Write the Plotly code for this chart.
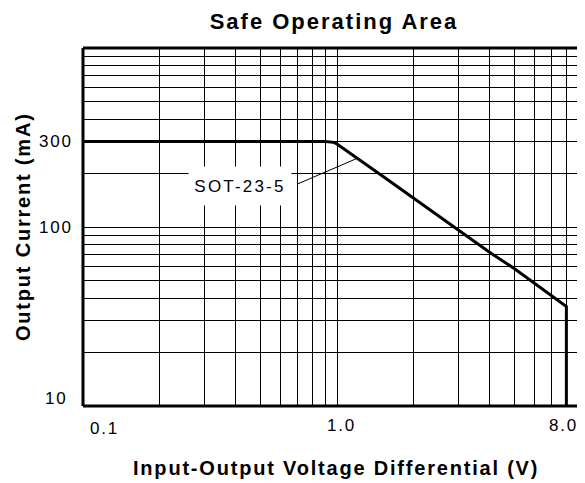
import math
import plotly.graph_objects as go

# ---- data ----
voltage = [0.1, 0.9, 0.97, 1.0, 1.5, 2.0, 3.0, 4.0, 5.0, 6.0, 7.0, 7.8, 8.0, 8.0]
current = [300, 300, 297, 291, 194, 145, 97, 72, 58.5, 48.5, 41.5, 37, 36, 10]

leader_v = [0.70, 1.21]
leader_i = [174, 243]
label_text = "SOT-23-5"
label_pos = (0.414, 169)

x_grid = [0.1, 0.2, 0.3, 0.4, 0.5, 0.6, 0.7, 0.8, 0.9, 1, 2, 3, 4, 5, 6, 7, 8, 9]
y_grid = [10, 20, 30, 40, 50, 60, 70, 80, 90, 100, 200, 300, 400, 500, 600, 700, 800, 900, 1000]

x_tick_vals = [0.1, 1.0, 8.0]
x_tick_text = ["0.1", "1.0", "8.0"]
y_tick_vals = [10, 100, 300]
y_tick_text = ["10", "100", "300"]

title_text = "Safe Operating Area"
x_title = "Input-Output Voltage Differential (V)"
y_title = "Output Current (mA)"

FONT = "Liberation Sans, Arial, sans-serif"

# the page body adds an 8px offset, so the figure is 8px smaller than the window
W, H = 577, 475


def spaced(t, px):
    return f'<span style="letter-spacing:{px}px">{t}</span>'


fig = go.Figure()
fig.add_trace(go.Scatter(x=voltage, y=current, mode="lines",
                         line=dict(color="black", width=3), showlegend=False,
                         hoverinfo="skip"))
fig.add_trace(go.Scatter(x=leader_v, y=leader_i, mode="lines",
                         line=dict(color="black", width=1), showlegend=False,
                         hoverinfo="skip"))

annotations = []
# SOT label
annotations.append(dict(x=math.log10(label_pos[0]), y=math.log10(label_pos[1]),
                        xref="x", yref="y", text=spaced(label_text, 2.2),
                        showarrow=False, bgcolor="white", width=100, height=36,
                        font=dict(family=FONT, size=17, color="black")))
# x tick labels
x_shifts = [21, 4, -3]
x_yshifts = [-22, -19, -19]
for v, t, dx, dy in zip(x_tick_vals, x_tick_text, x_shifts, x_yshifts):
    annotations.append(dict(x=math.log10(v), y=0, xref="x", yref="paper",
                            text=spaced(t, 1.8), showarrow=False,
                            xanchor="center", yanchor="middle", xshift=dx, yshift=dy,
                            font=dict(family=FONT, size=17, color="black")))
# y tick labels
y_xshifts = [-13, -8, -8]
y_yshifts = [8, 0, 0]
for v, t, dx, dy in zip(y_tick_vals, y_tick_text, y_xshifts, y_yshifts):
    annotations.append(dict(x=0, y=math.log10(v), xref="paper", yref="y",
                            text=spaced(t, 1.8), showarrow=False,
                            xanchor="right", yanchor="middle", xshift=dx, yshift=dy,
                            font=dict(family=FONT, size=17, color="black")))
# axis titles
annotations.append(dict(x=0.5, y=0, xref="paper", yref="paper",
                        text=spaced(x_title, 1.8), showarrow=False,
                        xanchor="center", yanchor="middle", yshift=-62, xshift=2,
                        font=dict(family=FONT, size=20, color="black", weight="bold")))
annotations.append(dict(x=0, y=0.5, xref="paper", yref="paper",
                        text=spaced(y_title, 1.8), showarrow=False, textangle=-90,
                        xanchor="center", yanchor="middle", xshift=-60,
                        font=dict(family=FONT, size=20, color="black", weight="bold")))

shapes = [
    dict(type="line", xref="paper", yref="paper", x0=0, x1=0, y0=0, y1=1,
         line=dict(color="black", width=3), layer="above"),
    dict(type="line", xref="paper", yref="paper", x0=0, x1=1, y0=0, y1=0,
         line=dict(color="black", width=3), layer="above"),
    dict(type="line", xref="paper", yref="paper", x0=0, x1=1, y0=1, y1=1,
         line=dict(color="black", width=3), layer="above"),
]

fig.update_layout(
    width=W, height=H,
    margin=dict(l=75, r=0, t=40, b=77, pad=0),
    paper_bgcolor="white", plot_bgcolor="white",
    title=dict(text=spaced(title_text, 2), x=0.5, xref="paper", xanchor="center",
               y=1 - 13 / H, yref="container", yanchor="middle",
               font=dict(family=FONT, size=22, color="black", weight="bold")),
    xaxis=dict(type="log", range=[-1, -1 + 502 / 254], tickvals=x_grid,
               showticklabels=False, ticks="", showgrid=True, gridcolor="black",
               gridwidth=1, showline=False, zeroline=False, fixedrange=True),
    yaxis=dict(type="log", range=[1, 3], tickvals=y_grid,
               showticklabels=False, ticks="", showgrid=True, gridcolor="black",
               gridwidth=1, showline=False, zeroline=False, fixedrange=True),
    annotations=annotations,
    shapes=shapes,
    showlegend=False,
)

fig.write_html("out.html")
